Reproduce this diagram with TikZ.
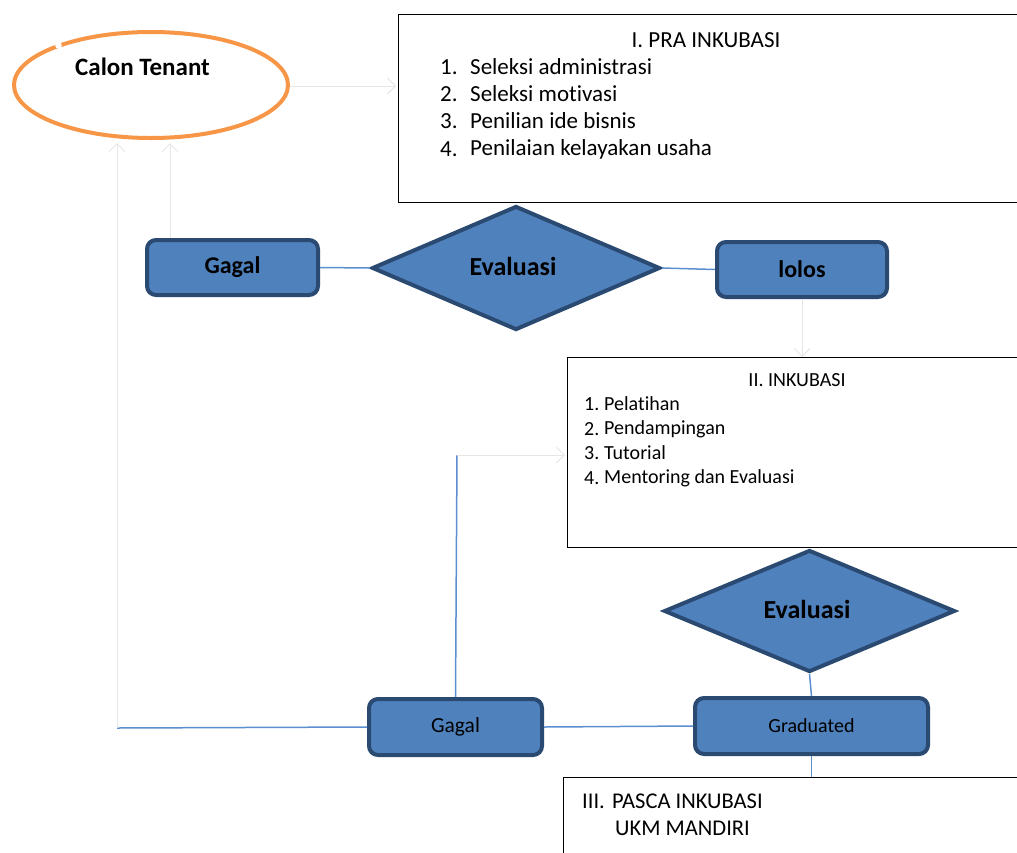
\documentclass[tikz,border=0pt]{standalone}
\usepackage{fontspec}
\setmainfont{Carlito}[Ligatures={NoCommon}]
\usetikzlibrary{shapes.geometric,arrows.meta}
\definecolor{fillblue}{HTML}{4F81BD}
\definecolor{edgeblue}{HTML}{2A4A72}
\definecolor{ctorange}{HTML}{F79646}
\definecolor{lineblue}{HTML}{5B8FD0}
\definecolor{ghostgray}{HTML}{E6E6E6}
\tikzset{
  procbox/.style={draw=edgeblue, fill=fillblue, line width=4pt, rounded corners=9pt, inner sep=0pt},
  decbox/.style={diamond, draw=edgeblue, fill=fillblue, line width=4pt, inner sep=0pt},
  stagebox/.style={draw=black, line width=1pt, anchor=north west, inner sep=0pt},
  bline/.style={draw=lineblue, line width=1.5pt},
  ghost/.style={draw=ghostgray, line width=1pt, -{Straight Barb[length=8pt,width=16pt]}},
  itemtxt/.style={anchor=west, inner sep=0pt, font=\fontsize{23}{25}\selectfont},
  item2txt/.style={anchor=west, inner sep=0pt, font=\fontsize{20}{22}\selectfont},
  item3txt/.style={anchor=west, inner sep=0pt, font=\fontsize{22.5}{24}\selectfont},
}
\begin{document}
\begin{tikzpicture}[x=1pt, y=-1pt]
\useasboundingbox (0,0) rectangle (1017,852);
\clip (0,0) rectangle (1017,852);

% Calon Tenant ellipse
\node[ellipse, draw=ctorange, line width=4pt, minimum width=274pt, minimum height=106pt, inner sep=0pt] (ct) at (151,85) {};
\fill[white] (58.5,45.5) circle (3.3pt);
\node[inner sep=0pt, font=\fontsize{25}{27}\selectfont\bfseries] (cttxt) at (142.5,67) {Calon Tenant};

% Stage boxes
\node[stagebox, minimum width=640pt, minimum height=188pt] (b1) at (398,14) {};
\node[inner sep=0pt, font=\fontsize{23}{25}\selectfont] (b1t) at (706,40) {I. PRA INKUBASI};
\node[itemtxt] (b1n1) at (440,67) {1.};
\node[itemtxt] (b1i1) at (470,67) {Seleksi administrasi};
\node[itemtxt] (b1n2) at (440,94) {2.};
\node[itemtxt] (b1i2) at (470,94) {Seleksi motivasi};
\node[itemtxt] (b1n3) at (440,121) {3.};
\node[itemtxt] (b1i3) at (470,121) {Penilian ide bisnis};
\node[itemtxt] (b1n4) at (440,149) {4.};
\node[itemtxt] (b1i4) at (470,149) {Penilaian kelayakan usaha};

\node[stagebox, minimum width=470pt, minimum height=190pt] (b2) at (567,357) {};
\node[inner sep=0pt, font=\fontsize{20}{22}\selectfont] (b2t) at (797,380) {II. INKUBASI};
\node[item2txt] (b2n1) at (584,404) {1.};
\node[item2txt] (b2i1) at (604,404) {Pelatihan};
\node[item2txt] (b2n2) at (584,429) {2.};
\node[item2txt] (b2i2) at (604,429) {Pendampingan};
\node[item2txt] (b2n3) at (584,453) {3.};
\node[item2txt] (b2i3) at (604,453) {Tutorial};
\node[item2txt] (b2n4) at (584,478) {4.};
\node[item2txt] (b2i4) at (604,478) {Mentoring dan Evaluasi};

\node[stagebox, minimum width=480pt, minimum height=100pt] (b3) at (563,777) {};
\node[item3txt] (b3n) at (582,801) {III.};
\node[item3txt] (b3t) at (612,801) {PASCA INKUBASI};
\node[item3txt] (b3u) at (615,828) {UKM MANDIRI};

% Decision diamonds
\node[decbox, minimum width=288pt, minimum height=124pt] (ev1) at (516,268) {};
\node[inner sep=0pt, font=\fontsize{26}{28}\selectfont\bfseries] (ev1t) at (513,266) {Evaluasi};
\node[decbox, minimum width=291pt, minimum height=122pt] (ev2) at (809.5,611) {};
\node[inner sep=0pt, font=\fontsize{26}{28}\selectfont\bfseries] (ev2t) at (807,609) {Evaluasi};

% Process boxes
\node[procbox, minimum width=171pt, minimum height=55pt, font=\fontsize{24}{26}\selectfont\bfseries] (g1) at (232.5,267.5) {Gagal};
\node[procbox, minimum width=170pt, minimum height=55pt, font=\fontsize{24}{26}\selectfont\bfseries] (lolos) at (802,269.5) {lolos};
\node[procbox, minimum width=173pt, minimum height=56pt, font=\fontsize{21.5}{23}\selectfont] (g2) at (455.5,727) {Gagal};
\node[procbox, minimum width=233pt, minimum height=56pt, font=\fontsize{20}{22}\selectfont] (grad) at (811.5,726) {Graduated};

% Coordinates for free ends
\coordinate (ctin) at (396,86);
\coordinate (g1up) at (170,143);
\coordinate (lc) at (117,728);
\coordinate (lctop) at (117,143);
\coordinate (up) at (457,455);
\coordinate (b2in) at (565,455);

% Connectors
\draw[ghost] (ct.east |- ctin) -- (ctin);
\draw[ghost] (g1.north -| g1up) -- (g1up);
\draw[bline] (g1.east) -- (ev1.west);
\draw[bline] (ev1.east) -- (lolos.west);
\draw[ghost] (lolos.south) -- (lolos.south |- b2.north);
\draw[bline] (g2.west) -- (lc);
\draw[ghost] (lc) -- (lctop);
\draw[bline] (g2.north) -- (up);
\draw[ghost] (up) -- (b2in);
\draw[bline] (g2.east) -- (grad.west);
\draw[bline] (ev2.south) -- (grad.north);
\draw[bline] (grad.south) -- (grad.south |- b3.north);
\end{tikzpicture}
\end{document}
